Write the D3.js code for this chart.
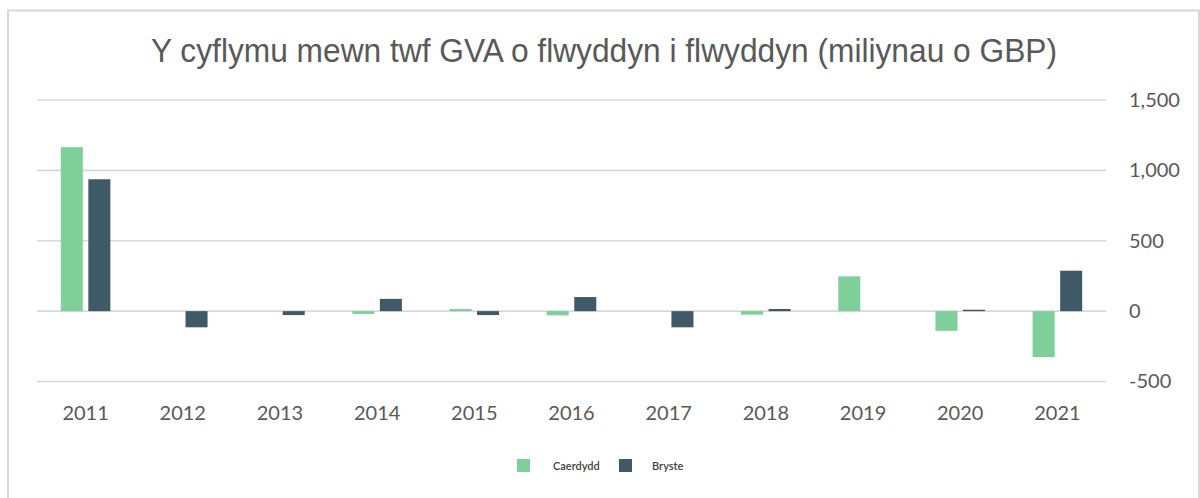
<!DOCTYPE html>
<html>
<head>
<meta charset="utf-8">
<script src="https://cdn.jsdelivr.net/npm/d3@7"></script>
<style>
  html, body { margin: 0; padding: 0; background: #ffffff; }
  svg { display: block; }
</style>
</head>
<body>
<svg id="chart" width="1200" height="498"></svg>
<script>
// Year-on-year change in GVA growth (GBP millions)
const years = ["2011", "2012", "2013", "2014", "2015", "2016", "2017", "2018", "2019", "2020", "2021"];
const caerdydd = [1165, 0, 0, -20, 15, -30, 0, -25, 247, -140, -327];
const bryste = [937, -115, -28, 87, -28, 100, -115, 15, 0, 10, 287];
const seriesNames = ["Caerdydd", "Bryste"];
const seriesColors = ["#7ecf9a", "#3e5a66"];
const yTicks = [-500, 0, 500, 1000, 1500];
const title = "Y cyflymu mewn twf GVA o flwyddyn i flwyddyn (miliynau o GBP)";

const svg = d3.select("#chart");

// outer frame
svg.append("rect")
  .attr("x", 8).attr("y", 10.5)
  .attr("width", 1191).attr("height", 520)
  .attr("fill", "#ffffff")
  .attr("stroke", "#d9d9d9").attr("stroke-width", 2);

const plot = { left: 37, right: 1106, top: 100, bottom: 381.5 };

const x0 = d3.scaleBand().domain(years).range([plot.left, plot.right]).padding(0);
const bw = x0.bandwidth();
const x1 = d3.scaleBand().domain(seriesNames)
  .range([bw * 0.245, bw * 0.755]).paddingInner(0.2).paddingOuter(0);
const y = d3.scaleLinear().domain([-500, 1500]).range([plot.bottom, plot.top]);

// gridlines
svg.append("g").selectAll("line").data(yTicks).join("line")
  .attr("x1", plot.left).attr("x2", plot.right)
  .attr("y1", d => y(d)).attr("y2", d => y(d))
  .attr("stroke", "#d9d9d9").attr("stroke-width", 1.6);

// right-hand value axis, plain hyphen for negatives
const fmt = d3.formatLocale({ decimal: ".", thousands: ",", grouping: [3], currency: ["£", ""], minus: "-" }).format(",");
const yAxis = d3.axisRight(y).tickValues(yTicks).tickSize(0).tickPadding(0).tickFormat(fmt);
const gy = svg.append("g").attr("transform", `translate(1129,0)`).call(yAxis);
gy.select(".domain").remove();
gy.selectAll("text")
  .attr("x", 0)
  .attr("font-family", "Lato, 'Open Sans', sans-serif")
  .attr("font-size", 20)
  .attr("fill", "#595959");

// bars
const rows = years.map((yr, i) => ({ year: yr, values: [caerdydd[i], bryste[i]] }));
const groups = svg.append("g").selectAll("g").data(rows).join("g")
  .attr("transform", d => `translate(${x0(d.year)},0)`);
groups.selectAll("rect")
  .data(d => d.values.map((v, j) => ({ name: seriesNames[j], value: v, color: seriesColors[j] })))
  .join("rect")
  .attr("x", d => x1(d.name))
  .attr("width", x1.bandwidth())
  .attr("y", d => Math.min(y(d.value), y(0)))
  .attr("height", d => Math.abs(y(d.value) - y(0)))
  .attr("fill", d => d.color);

// category axis labels
const xAxis = d3.axisBottom(x0).tickSize(0).tickPadding(0);
const gx = svg.append("g").attr("transform", `translate(0,420)`).call(xAxis);
gx.select(".domain").remove();
gx.selectAll("text")
  .attr("dy", 0)
  .attr("y", 0)
  .attr("font-family", "Lato, 'Open Sans', sans-serif")
  .attr("font-size", 20)
  .attr("fill", "#595959");

// title
svg.append("text")
  .attr("x", 604).attr("y", 62)
  .attr("text-anchor", "middle")
  .attr("font-family", "'Liberation Sans', Arial, sans-serif")
  .attr("font-size", 33)
  .attr("fill", "#595959")
  .attr("textLength", 906)
  .attr("lengthAdjust", "spacingAndGlyphs")
  .text(title);

// legend
const legendItems = [
  { name: seriesNames[0], color: seriesColors[0], sx: 517, tx: 553 },
  { name: seriesNames[1], color: seriesColors[1], sx: 619, tx: 652 }
];
const lg = svg.append("g").selectAll("g").data(legendItems).join("g");
lg.append("rect")
  .attr("x", d => d.sx).attr("y", 459)
  .attr("width", 13).attr("height", 13)
  .attr("fill", d => d.color);
lg.append("text")
  .attr("x", d => d.tx).attr("y", 470)
  .attr("font-family", "Lato, 'Open Sans', sans-serif")
  .attr("font-size", 11)
  .attr("font-weight", 600)
  .attr("fill", "#404040")
  .text(d => d.name);
</script>
</body>
</html>
